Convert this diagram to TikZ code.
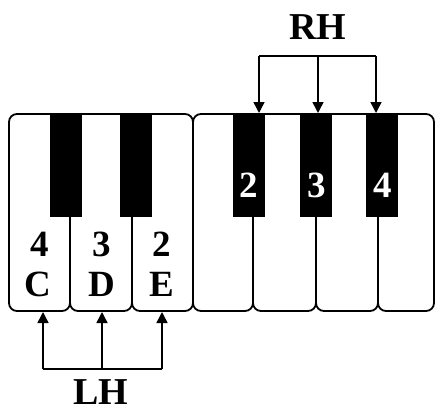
\documentclass[tikz,border=0pt]{standalone}
\usepackage{fontspec}
\setmainfont{Liberation Serif}
\usetikzlibrary{arrows.meta}
\begin{document}
\begin{tikzpicture}[x=1pt,y=-1pt,
  whitekey/.style={draw,line width=1.8pt,fill=white,rounded corners=8pt,minimum height=197pt,inner sep=0pt,outer sep=0pt,anchor=north west},
  blackkey/.style={fill=black,minimum width=32pt,minimum height=104pt,inner sep=0pt,outer sep=0pt,anchor=north},
  keytxt/.style={font=\fontsize{37}{40}\selectfont\bfseries,inner sep=0pt,anchor=base},
  bktxt/.style={keytxt,text=white},
  handtxt/.style={font=\fontsize{38}{42}\selectfont\bfseries,inner sep=0pt,anchor=base},
  conn/.style={line width=1.5pt},
  arr/.style={conn,-{Triangle[length=11pt,width=11pt]}}]
\useasboundingbox (0,0) rectangle (435,409);
% white keys, left group
\node[whitekey,minimum width=61pt] (kC) at (9,114) {};
\node[whitekey,minimum width=62pt] (kD) at (70,114) {};
\node[whitekey,minimum width=61pt] (kE) at (132,114) {};
% white keys, right group
\node[whitekey,minimum width=60pt] (kF) at (193,114) {};
\node[whitekey,minimum width=63pt] (kG) at (253,114) {};
\node[whitekey,minimum width=62pt] (kA) at (316,114) {};
\node[whitekey,minimum width=56pt] (kB) at (378,114) {};
% black keys
\node[blackkey] (b1) at (66,113) {};
\node[blackkey] (b2) at (136,113) {};
\node[blackkey] (b3) at (249,113) {};
\node[blackkey] (b4) at (316,113) {};
\node[blackkey] (b5) at (382,113) {};
% labels on left keys
\node[keytxt] (f4) at (40,256) {4};
\node[keytxt] (nC) at (38,296.5) {C};
\node[keytxt] (f3) at (102,256) {3};
\node[keytxt] (nD) at (102,296.5) {D};
\node[keytxt] (f2) at (162,256) {2};
\node[keytxt] (nE) at (162,296.5) {E};
% labels on black keys
\node[bktxt] (r2) at (249,197) {2};
\node[bktxt] (r3) at (317,197) {3};
\node[bktxt] (r4) at (383,197) {4};
% hand labels
\node[handtxt] (RH) at (318,40) {RH};
\node[handtxt] (LH) at (101,404) {LH};
% RH bracket
\coordinate (rh1) at (259,56);
\coordinate (rh2) at (318,56);
\coordinate (rh3) at (376,56);
\draw[conn] (rh1) -- (rh3);
\draw[arr] (rh1) -- (rh1 |- b3.north);
\draw[arr] (rh2) -- (rh2 |- b4.north);
\draw[arr] (rh3) -- (rh3 |- b5.north);
% LH bracket
\coordinate (lh1) at (43,369);
\coordinate (lh2) at (102,369);
\coordinate (lh3) at (162,369);
\draw[conn] (lh1) -- (lh3);
\draw[arr] (lh1) -- ([yshift=-1pt]lh1 |- kC.south);
\draw[arr] (lh2) -- ([yshift=-1pt]lh2 |- kD.south);
\draw[arr] (lh3) -- ([yshift=-1pt]lh3 |- kE.south);
\end{tikzpicture}
\end{document}
